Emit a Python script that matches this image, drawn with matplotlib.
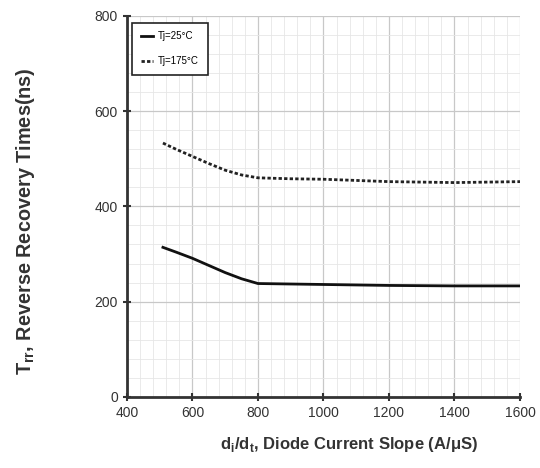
import matplotlib
matplotlib.use('Agg')
import matplotlib.pyplot as plt
from matplotlib.ticker import MultipleLocator

slope = [510, 550, 600, 650, 700, 750, 800, 900, 1000, 1200, 1400, 1600]
trr_25 = [314, 304, 291, 276, 261, 248, 238, 237, 236, 234, 233, 233]
trr_175 = [533, 520, 505, 490, 476, 466, 460, 458, 457, 452, 450, 452]

plt.rcParams['font.family'] = ['Liberation Sans Narrow', 'Liberation Sans', 'DejaVu Sans']

fig = plt.figure(figsize=(5.4, 4.68), dpi=100)
ax = fig.add_axes([0.235, 0.152, 0.728, 0.814])

ax.plot(slope, trr_25, color='#111111', lw=2.0, label='Tj=25\u00b0C')
ax.plot(slope, trr_175, color='#222222', lw=2.0, ls=(0, (1.2, 0.8)), label='Tj=175\u00b0C')

ax.set_xlim(400, 1600)
ax.set_ylim(0, 800)
ax.xaxis.set_major_locator(MultipleLocator(200))
ax.yaxis.set_major_locator(MultipleLocator(200))
ax.xaxis.set_minor_locator(MultipleLocator(40))
ax.yaxis.set_minor_locator(MultipleLocator(40))
ax.grid(which='major', color='#c8c8c8', lw=0.9)
ax.grid(which='minor', color='#e6e6e6', lw=0.6)
ax.set_axisbelow(True)

for s in ['top', 'right']:
    ax.spines[s].set_visible(False)
ax.spines['left'].set_linewidth(2)
ax.spines['bottom'].set_linewidth(2)
ax.spines['left'].set_color('#333333')
ax.spines['bottom'].set_color('#333333')
ax.tick_params(which='major', direction='inout', length=6, width=1.5, labelsize=10, colors='#333333')
ax.tick_params(which='minor', length=0)

ax.set_xlabel('d$_\\mathregular{i}$/d$_\\mathregular{t}$, Diode Current Slope (A/\u03bcS)',
              fontsize=12, fontweight='bold', family=['Liberation Sans', 'DejaVu Sans'],
              color='#333333', labelpad=10)
ax.xaxis.set_label_coords(0.565, -0.1)
ax.set_ylabel('T$_\\mathregular{rr}$, Reverse Recovery Times(ns)',
              fontsize=14.3, fontweight='bold', family=['Liberation Sans', 'DejaVu Sans'],
              color='#333333')
ax.yaxis.set_label_coords(-0.228, 0.46)

leg = ax.legend(loc='upper left', bbox_to_anchor=(0.0, 0.995), fontsize=7,
                fancybox=False, edgecolor='#222222', framealpha=1, handlelength=1.3,
                handletextpad=0.5, borderpad=0.9, labelspacing=1.5)
leg.get_frame().set_linewidth(1.2)

fig.savefig('out.png', dpi=100)
